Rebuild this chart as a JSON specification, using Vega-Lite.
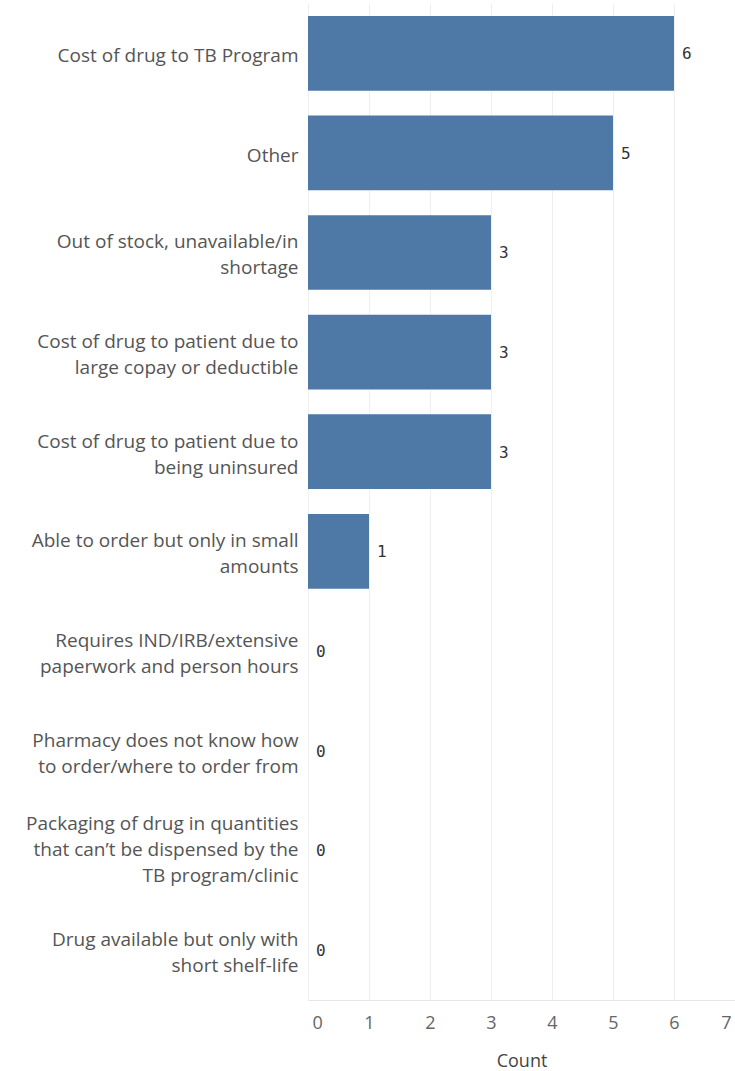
{
  "$schema": "https://vega.github.io/schema/vega-lite/v6.json",
  "width": 427,
  "height": 997,
  "autosize": {"type": "none"},
  "padding": {"left": 308, "top": 3, "right": 0, "bottom": 71},
  "background": "white",
  "data": {
    "values": [
      {"reason": "Cost of drug to TB Program", "count": 6},
      {"reason": "Other", "count": 5},
      {"reason": "Out of stock, unavailable/in|shortage", "count": 3},
      {"reason": "Cost of drug to patient due to|large copay or deductible", "count": 3},
      {"reason": "Cost of drug to patient due to|being uninsured", "count": 3},
      {"reason": "Able to order but only in small|amounts", "count": 1},
      {"reason": "Requires IND/IRB/extensive|paperwork and person hours", "count": 0},
      {"reason": "Pharmacy does not know how|to order/where to order from", "count": 0},
      {"reason": "Packaging of drug in quantities|that can’t be dispensed by the|TB program/clinic", "count": 0},
      {"reason": "Drug available but only with|short shelf-life", "count": 0}
    ]
  },
  "encoding": {
    "y": {
      "field": "reason",
      "type": "nominal",
      "sort": null,
      "title": null,
      "scale": {"paddingInner": 0.25, "paddingOuter": 0.13},
      "axis": {
        "domain": false,
        "ticks": false,
        "labelPadding": 10,
        "labelExpr": "split(datum.label, '|')",
        "labelOffset": {"expr": "length(split(datum.value, '|')) == 3 ? -26 : 3 - (length(split(datum.value, '|')) - 1) * 13"},
        "labelFont": "Open Sans",
        "labelFontSize": 19,
        "labelColor": "#555555",
        "labelLineHeight": 26,
        "labelLimit": 320
      }
    },
    "x": {
      "field": "count",
      "type": "quantitative",
      "title": "Count",
      "scale": {"domain": [0, 7], "nice": false},
      "axis": {
        "values": [0, 1, 2, 3, 4, 5, 6, 7],
        "grid": true,
        "gridColor": "#efefef",
        "domainColor": "#e6e6e6",
        "ticks": false,
        "labelPadding": 14,
        "labelFont": "Open Sans",
        "labelFontSize": 18,
        "labelColor": "#666666",
        "labelFlush": true,
        "labelFlushOffset": -4,
        "titleFont": "Open Sans",
        "titleFontSize": 18,
        "titleFontWeight": "normal",
        "titleColor": "#444444",
        "titlePadding": 20
      }
    }
  },
  "layer": [
    {
      "mark": {"type": "bar", "color": "#4e79a7"}
    },
    {
      "mark": {
        "type": "text",
        "align": "left",
        "dx": 8,
        "dy": 1,
        "font": "DejaVu Sans Mono",
        "fontSize": 16,
        "color": "#333333"
      },
      "encoding": {"text": {"field": "count", "type": "quantitative"}}
    }
  ],
  "config": {"view": {"stroke": null}}
}
